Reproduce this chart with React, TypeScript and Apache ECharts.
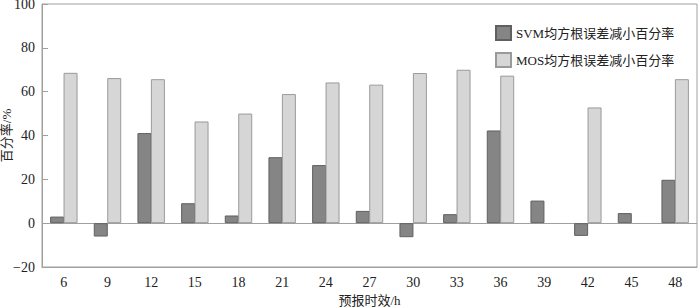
import React, { useEffect, useRef } from "react";
import * as echarts from "echarts";

const categories = ["6", "9", "12", "15", "18", "21", "24", "27", "30", "33", "36", "39", "42", "45", "48"];
const svmValues = [3.0, -6.1, 41.1, 9.1, 3.5, 30.1, 26.5, 5.6, -6.4, 4.1, 42.3, 10.3, -5.8, 4.6, 19.8];
const mosValues: (number | null)[] = [68.6, 66.2, 65.7, 46.4, 50.0, 58.9, 64.2, 63.2, 68.5, 70.0, 67.3, null, 52.8, null, 65.7];
const seriesNames = ["SVM均方根误差减小百分率", "MOS均方根误差减小百分率"];
const yTicks = { min: -20, max: 100, interval: 20 };

const FONT = "'Liberation Serif', 'Noto Sans CJK SC', serif";

export default function App() {
  const ref = useRef<HTMLDivElement>(null);
  useEffect(() => {
    if (!ref.current) return;
    const chart = echarts.init(ref.current, undefined, { renderer: "svg" });
    chart.setOption({
      animation: false,
      textStyle: { fontFamily: FONT },
      grid: {
        left: 42,
        right: 3,
        top: 4,
        bottom: 40,
        containLabel: false,
        outerBoundsMode: "none",
        show: true,
        borderColor: "#a0a0a0",
        borderWidth: 1,
        backgroundColor: "transparent",
      },
      legend: {
        left: 490,
        top: 20,
        orient: "vertical",
        itemWidth: 15,
        itemHeight: 14,
        itemGap: 11,
        icon: "rect",
        textStyle: { fontFamily: FONT, fontSize: 13, color: "#222" },
        data: seriesNames,
      },
      xAxis: {
        type: "category",
        data: categories,
        name: "预报时效/h",
        nameLocation: "middle",
        nameGap: 27,
        nameTextStyle: { fontFamily: FONT, fontSize: 13, color: "#222" },
        axisLine: { onZero: false, lineStyle: { color: "#a0a0a0" } },
        axisTick: { inside: true, length: 7, lineStyle: { color: "#a0a0a0" } },
        axisLabel: { fontFamily: FONT, fontSize: 14, color: "#222", margin: 8 },
      },
      yAxis: {
        type: "value",
        min: yTicks.min,
        max: yTicks.max,
        interval: yTicks.interval,
        name: "百分率/%",
        nameLocation: "middle",
        nameGap: 29,
        nameMoveOverlap: false,
        nameTextStyle: { fontFamily: FONT, fontSize: 13, color: "#222" },
        axisLine: { show: true, lineStyle: { color: "#a0a0a0" } },
        axisTick: { show: true, inside: true, length: 6, lineStyle: { color: "#a0a0a0" } },
        splitLine: { show: false },
        axisLabel: {
          fontFamily: FONT,
          fontSize: 14,
          color: "#222",
          margin: 7,
          formatter: (v: number) => String(v).replace("-", "\u2212"),
        },
      },
      series: [
        {
          name: seriesNames[0],
          type: "bar",
          data: svmValues,
          barWidth: 14,
          barGap: "-4%",
          itemStyle: { color: "#858585", borderColor: "#606060", borderWidth: 1 },
          markLine: {
            silent: true,
            symbol: "none",
            label: { show: false },
            lineStyle: { color: "#a0a0a0", type: "solid", width: 1 },
            data: [{ yAxis: 0 }],
            z: 1,
          },
        },
        {
          name: seriesNames[1],
          type: "bar",
          data: mosValues,
          barWidth: 14,
          itemStyle: { color: "#d6d6d6", borderColor: "#9a9a9a", borderWidth: 1 },
        },
      ],
    });
    return () => chart.dispose();
  }, []);
  return <div ref={ref} style={{ width: 700, height: 307, position: "absolute", left: 0, top: 0 }} />;
}
